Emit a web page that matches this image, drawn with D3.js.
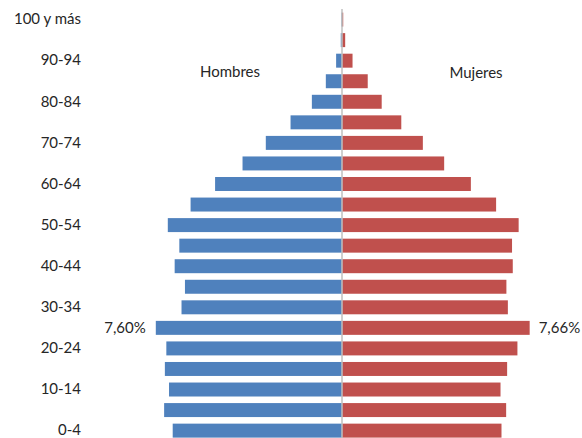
<!DOCTYPE html>
<html>
<head>
<meta charset="utf-8">
<script src="https://cdnjs.cloudflare.com/ajax/libs/d3/7.8.5/d3.min.js"></script>
<style>
  body { margin: 0; background: #fff; }
  text { font-family: Lato, "Open Sans", sans-serif; fill: #262626; }
</style>
</head>
<body>
<div id="chart"></div>
<script>
// age groups, bottom to top
const ageGroups = ["0-4", "5-9", "10-14", "15-19", "20-24", "25-29", "30-34", "35-39",
  "40-44", "45-49", "50-54", "55-59", "60-64", "65-69", "70-74", "75-79",
  "80-84", "85-89", "90-94", "95-99", "100 y más"];
// % of population
const hombres = [6.91, 7.26, 7.06, 7.23, 7.17, 7.60, 6.55, 6.41, 6.83, 6.64, 7.11,
  6.18, 5.18, 4.06, 3.11, 2.10, 1.23, 0.66, 0.24, 0.05, 0.02];
const mujeres = [6.51, 6.70, 6.47, 6.74, 7.16, 7.66, 6.77, 6.71, 6.97, 6.94, 7.21,
  6.29, 5.26, 4.17, 3.30, 2.42, 1.62, 1.05, 0.43, 0.13, 0.05];
const tickLabels = ["0-4", "10-14", "20-24", "30-34", "40-44", "50-54", "60-64",
  "70-74", "80-84", "90-94", "100 y más"];

const width = 582, height = 438;
const blue = "#4f81bd", red = "#c0504d";

const svg = d3.select("#chart").append("svg")
    .attr("width", width)
    .attr("height", height);

// x: percentage, male to the left
const x = d3.scaleLinear().domain([-8, 8]).range([146, 538]);

const y = d3.scaleBand()
    .domain(ageGroups.slice().reverse())
    .range([9.3, 440.9])
    .paddingInner(0.32)
    .paddingOuter(0.16);

// male bars
svg.selectAll(".m")
    .data(ageGroups)
  .enter().append("rect")
    .attr("class", "m")
    .attr("x", (d, i) => x(-hombres[i]))
    .attr("y", d => y(d))
    .attr("width", (d, i) => x(0) - x(-hombres[i]))
    .attr("height", y.bandwidth())
    .attr("fill", blue);

// female bars
svg.selectAll(".f")
    .data(ageGroups)
  .enter().append("rect")
    .attr("class", "f")
    .attr("x", x(0))
    .attr("y", d => y(d))
    .attr("width", (d, i) => x(mujeres[i]) - x(0))
    .attr("height", y.bandwidth())
    .attr("fill", red);

// center line
svg.append("line")
    .attr("x1", x(0)).attr("x2", x(0))
    .attr("y1", 9).attr("y2", height)
    .attr("stroke", "#bfbfbf")
    .attr("stroke-width", 1.5);

// age axis
const axis = svg.append("g")
    .attr("transform", "translate(81,0)")
    .call(d3.axisLeft(y).tickValues(tickLabels).tickSize(0).tickPadding(0));
axis.select(".domain").remove();
axis.selectAll("text")
    .style("font-family", "Lato, 'Open Sans', sans-serif")
    .style("font-size", "15px")
    .attr("fill", "#262626");

// series names
svg.append("text").attr("x", 230).attr("y", 77)
    .attr("text-anchor", "middle").style("font-size", "15px").text("Hombres");
svg.append("text").attr("x", 476).attr("y", 78)
    .attr("text-anchor", "middle").style("font-size", "15px").text("Mujeres");

// data labels on the 25-29 group
const k = ageGroups.indexOf("25-29");
const fmt = v => v.toFixed(2).replace(".", ",") + "%";
svg.append("text")
    .attr("x", x(-hombres[k]) - 10)
    .attr("y", y("25-29") + y.bandwidth() / 2 + 5)
    .attr("text-anchor", "end").style("font-size", "15px")
    .text(fmt(hombres[k]));
svg.append("text")
    .attr("x", x(mujeres[k]) + 9)
    .attr("y", y("25-29") + y.bandwidth() / 2 + 5)
    .attr("text-anchor", "start").style("font-size", "15px")
    .text(fmt(mujeres[k]));
</script>
</body>
</html>
